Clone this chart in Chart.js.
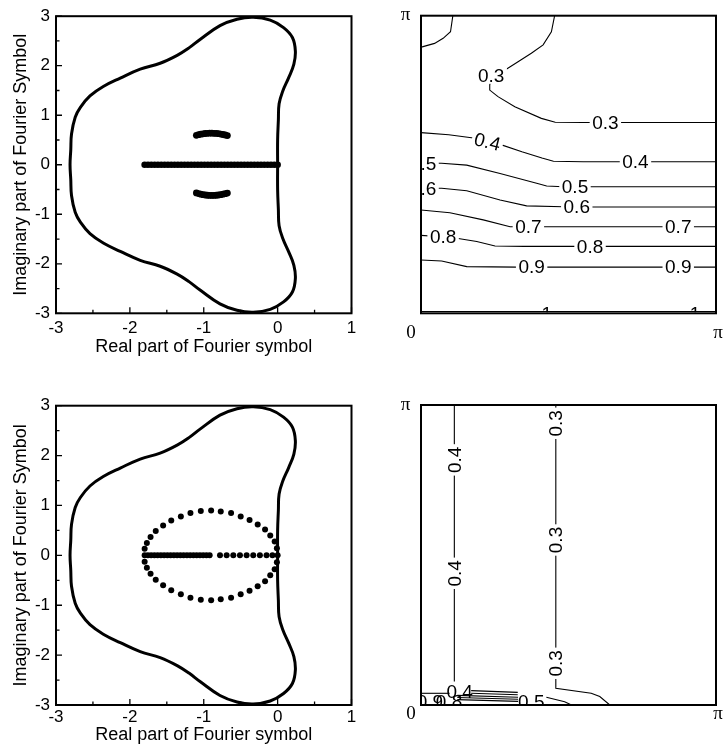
<!DOCTYPE html>
<html>
<head>
<meta charset="utf-8">
<script src="https://cdn.jsdelivr.net/npm/chart.js@4.4.1/dist/chart.umd.min.js"></script>
<style>
  html, body { margin: 0; padding: 0; background: #fff; }
  #wrap { position: relative; width: 724px; height: 750px; }
  canvas { position: absolute; }
</style>
</head>
<body>
<div id="wrap">
  <canvas id="tl" width="362" height="375" style="left:0;top:0"></canvas>
  <canvas id="tr" width="362" height="375" style="left:362px;top:0"></canvas>
  <canvas id="bl" width="362" height="375" style="left:0;top:375px"></canvas>
  <canvas id="br" width="362" height="375" style="left:362px;top:375px"></canvas>
</div>
<script>
// ---------- Stability boundary of the time integrator (closed curve) ----------
const boundaryX = [0.00, 0.00, 0.01, 0.02, 0.07, 0.15, 0.22, 0.24, 0.20, 0.08, -0.10, -0.33, -0.55, -0.78, -1.05, -1.20, -1.36, -1.59, -1.86, -2.13, -2.36, -2.54, -2.67, -2.74, -2.79, -2.80, -2.81,
                   -2.80, -2.79, -2.74, -2.67, -2.54, -2.36, -2.13, -1.86, -1.59, -1.36, -1.20, -1.05, -0.78, -0.55, -0.33, -0.10, 0.08, 0.20, 0.24, 0.22, 0.15, 0.07, 0.02, 0.01, 0.00, 0.00];
const boundaryY = [0.00, 0.50, 0.90, 1.23, 1.49, 1.76, 2.03, 2.30, 2.57, 2.77, 2.92, 2.98, 2.94, 2.81, 2.53, 2.36, 2.21, 2.05, 1.93, 1.75, 1.58, 1.39, 1.16, 0.96, 0.62, 0.30, 0.00,
                   -0.30, -0.62, -0.96, -1.16, -1.39, -1.58, -1.75, -1.93, -2.05, -2.21, -2.36, -2.53, -2.81, -2.94, -2.98, -2.92, -2.77, -2.57, -2.30, -2.03, -1.76, -1.49, -1.23, -0.90, -0.50, 0.00];

// ---------- Upper scheme: eigenvalues of the Fourier symbol ----------
const topRealRoots = [-1.80, -1.755, -1.71, -1.665, -1.62, -1.575, -1.53, -1.485, -1.44, -1.395, -1.35, -1.305, -1.26, -1.215, -1.17, -1.125, -1.08, -1.035, -0.99, -0.945, -0.90,
                      -0.855, -0.81, -0.765, -0.72, -0.675, -0.63, -0.585, -0.54, -0.495, -0.45, -0.405, -0.36, -0.315, -0.27, -0.225, -0.18, -0.135, -0.09, -0.045, 0.00];
const topArcX      = [-1.10, -1.07, -1.04, -1.01, -0.98, -0.95, -0.92, -0.89, -0.86, -0.83, -0.80, -0.77, -0.74, -0.71, -0.68];
const topArcUpperY = [0.595, 0.607, 0.617, 0.625, 0.631, 0.635, 0.637, 0.637, 0.635, 0.632, 0.627, 0.620, 0.611, 0.601, 0.590];
const topArcLowerY = [-0.570, -0.583, -0.595, -0.604, -0.611, -0.616, -0.619, -0.620, -0.619, -0.616, -0.611, -0.604, -0.595, -0.584, -0.572];

// ---------- Lower scheme: eigenvalues of the Fourier symbol ----------
const botRealRoots = [-1.80, -1.756, -1.712, -1.668, -1.624, -1.58, -1.536, -1.492, -1.448, -1.404, -1.36, -1.316, -1.272, -1.228, -1.184, -1.14, -1.096, -1.052, -1.008, -0.964, -0.92,
                      -0.78, -0.69, -0.60, -0.51, -0.42, -0.33, -0.24, -0.15, -0.07, 0.00];
const ringX      = [-1.80, -1.77, -1.72, -1.65, -1.55, -1.44, -1.31, -1.18, -1.04, -0.90, -0.77, -0.63, -0.50, -0.38, -0.27, -0.17, -0.10, -0.04, -0.01];
const ringUpperY = [0.13, 0.25, 0.37, 0.49, 0.60, 0.70, 0.78, 0.85, 0.89, 0.90, 0.88, 0.85, 0.78, 0.71, 0.62, 0.52, 0.40, 0.28, 0.14];
const ringLowerY = [-0.13, -0.25, -0.37, -0.49, -0.60, -0.70, -0.78, -0.85, -0.89, -0.90, -0.88, -0.85, -0.78, -0.71, -0.62, -0.52, -0.40, -0.28, -0.14];

// ---------- Upper scheme: contours over (theta_x, theta_y) in units of pi ----------
const trC03aU = [0.108, 0.100, 0.075, 0.046, 0.007, 0.000];
const trC03aV = [1.000, 0.946, 0.924, 0.907, 0.896, 0.894];
const trC03bU = [0.453, 0.442, 0.414, 0.374, 0.329, 0.289, 0.238, 0.233, 0.233, 0.261, 0.318, 0.408, 0.455, 0.550, 1.000];
const trC03bV = [1.000, 0.946, 0.902, 0.874, 0.845, 0.820, 0.795, 0.767, 0.750, 0.728, 0.694, 0.655, 0.642, 0.641, 0.641];
const trC04U  = [0.000, 0.094, 0.184, 0.225, 0.273, 0.342, 0.410, 0.449, 0.550, 1.000];
const trC04V  = [0.607, 0.600, 0.588, 0.576, 0.566, 0.543, 0.522, 0.511, 0.509, 0.509];
const trC05U  = [0.000, 0.070, 0.155, 0.268, 0.392, 0.426, 0.482, 0.550, 1.000];
const trC05V  = [0.505, 0.504, 0.498, 0.470, 0.437, 0.428, 0.425, 0.425, 0.425];
const trC06U  = [0.000, 0.070, 0.155, 0.268, 0.358, 0.482, 0.550, 1.000];
const trC06V  = [0.420, 0.420, 0.412, 0.381, 0.361, 0.358, 0.357, 0.357];
const trC07U  = [0.000, 0.098, 0.211, 0.302, 0.400, 1.000];
const trC07V  = [0.347, 0.338, 0.314, 0.291, 0.291, 0.291];
const trC08U  = [0.000, 0.070, 0.121, 0.189, 0.251, 0.350, 1.000];
const trC08V  = [0.262, 0.257, 0.252, 0.241, 0.226, 0.225, 0.225];
const trC09U  = [0.000, 0.070, 0.155, 0.324, 1.000];
const trC09V  = [0.179, 0.176, 0.157, 0.155, 0.155];
const trC10U  = [0.000, 1.000];
const trC10V  = [0.006, 0.006];
const trLabelText  = ['0.3', '0.3', '0.4', '0.4', '0.5', '0.5', '0.6', '0.6', '0.7', '0.7', '0.8', '0.8', '0.9', '0.9'];
const trLabelU     = [0.238, 0.625, 0.225, 0.727, 0.007, 0.522, 0.007, 0.528, 0.364, 0.872, 0.075, 0.573, 0.375, 0.872];
const trLabelV     = [0.798, 0.641, 0.576, 0.509, 0.504, 0.425, 0.420, 0.357, 0.291, 0.291, 0.256, 0.225, 0.155, 0.155];
const trLabelAngle = [0, 0, 14, 0, 0, 0, 0, 0, 0, 0, 0, 0, 0, 0];
const trEdgeLabelText = ['1', '1'];
const trEdgeLabelU    = [0.426, 0.929];
const trEdgeLabelV    = [0.000, 0.000];

// ---------- Lower scheme: contours over (theta_x, theta_y) in units of pi ----------
const brC04U = [0.113, 0.113];
const brC04V = [1.000, 0.078];
const brC03U = [0.457, 0.457, 0.577, 0.606, 0.640];
const brC03V = [1.000, 0.056, 0.039, 0.028, 0.000];
const brLowAU = [0.000, 0.097], brLowAV = [0.039, 0.039];
const brLowBU = [0.170, 0.328], brLowBV = [0.048, 0.042];
const brLowCU = [0.170, 0.328], brLowCV = [0.039, 0.034];
const brLowDU = [0.123, 0.329], brLowDV = [0.032, 0.026];
const brLowEU = [0.123, 0.329], brLowEV = [0.025, 0.019];
const brLowFU = [0.123, 0.329], brLowFV = [0.018, 0.012];
const brLowGU = [0.425, 0.487, 0.510], brLowGV = [0.026, 0.011, 0.000];
const brLabelText  = ['0.4', '0.4', '0.3', '0.3', '0.3'];
const brLabelU     = [0.113, 0.113, 0.457, 0.457, 0.457];
const brLabelV     = [0.817, 0.439, 0.939, 0.550, 0.139];
const brLabelAngle = [-90, -90, -90, -90, -90];
const brEdgeLabelText = ['0.4', '0.8', '0.9', '0.5'];
const brEdgeLabelU    = [0.131, 0.095, 0.030, 0.374];
const brEdgeLabelV    = [0.044, 0.012, 0.012, 0.012];

const SANS = '"Liberation Sans", Arial, Helvetica, sans-serif';
const SERIF = '"Liberation Serif", "Times New Roman", serif';

function pts(xs, ys) { return xs.map((x, i) => ({ x, y: ys[i] })); }
function onAxis(xs) { return xs.map(x => ({ x, y: 0 })); }

// Frame, inward tick marks, contour labels and corner labels.
function makeDecor(cfg) {
  return {
    id: 'decor',
    afterDatasetsDraw(chart) {
      const ctx = chart.ctx, a = chart.chartArea;
      const xs = chart.scales.x, ys = chart.scales.y;
      const drawLabels = (text, us, vs, angles, boxed) => {
        ctx.save();
        ctx.beginPath();
        ctx.rect(a.left + 1, a.top + 1, a.right - a.left - 2, a.bottom - a.top - 2);
        ctx.clip();
        ctx.font = '19px ' + SANS;
        ctx.textAlign = 'center';
        ctx.textBaseline = 'middle';
        text.forEach((t, i) => {
          const px = xs.getPixelForValue(us[i]);
          const py = ys.getPixelForValue(vs[i]);
          ctx.save();
          ctx.translate(px, py);
          ctx.rotate((angles ? angles[i] : 0) * Math.PI / 180);
          const w = ctx.measureText(t).width;
          if (boxed) {
            ctx.fillStyle = '#fff';
            ctx.fillRect(-w / 2 - 2.5, -8, w + 5, 16);
          }
          ctx.fillStyle = '#000';
          ctx.fillText(t, 0, 1);
          ctx.restore();
        });
        ctx.restore();
      };
      (cfg.labelSets || []).forEach(s => drawLabels(s.text, s.u, s.v, s.angle, s.boxed));

      ctx.save();
      ctx.strokeStyle = '#000';
      ctx.lineWidth = 2;
      ctx.strokeRect(a.left, a.top, a.right - a.left, a.bottom - a.top);
      ctx.restore();

      if (cfg.inwardTicks) {
        ctx.save();
        ctx.strokeStyle = '#000';
        ctx.lineWidth = 1.3;
        ctx.beginPath();
        for (let v = xs.min; v <= xs.max + 1e-9; v += 0.5) {
          const px = xs.getPixelForValue(v);
          const len = Math.abs(v - Math.round(v)) < 1e-9 ? 6 : 3.5;
          ctx.moveTo(px, a.bottom);
          ctx.lineTo(px, a.bottom - len);
        }
        for (let v = ys.min; v <= ys.max + 1e-9; v += 0.5) {
          const py = ys.getPixelForValue(v);
          const len = Math.abs(v - Math.round(v)) < 1e-9 ? 6 : 3.5;
          ctx.moveTo(a.left, py);
          ctx.lineTo(a.left + len, py);
        }
        ctx.stroke();
        ctx.restore();
      }

      if (cfg.corner) {
        const c = cfg.corner;
        ctx.save();
        ctx.fillStyle = '#000';
        ctx.font = '19px ' + SERIF;
        ctx.textAlign = 'center';
        ctx.textBaseline = 'middle';
        ctx.fillText('\u03c0', a.left - 15.5, a.top + c.topDy);
        ctx.fillText('0', a.left - 10, a.bottom + c.bottomDy);
        ctx.fillText('\u03c0', a.right + 2, a.bottom + c.bottomDy);
        ctx.restore();
      }
    }
  };
}

Chart.defaults.font.family = SANS;
Chart.defaults.color = '#000';

function symbolChart(id, datasets, pad, xAxisHeight, tickPad, titlePad) {
  return new Chart(document.getElementById(id), {
    type: 'scatter',
    data: { datasets },
    options: {
      responsive: false,
      animation: false,
      devicePixelRatio: 1,
      layout: { padding: { top: pad.top, right: pad.right, bottom: 0, left: 0 } },
      plugins: { legend: { display: false }, tooltip: { enabled: false } },
      scales: {
        x: {
          type: 'linear', min: -3, max: 1,
          grid: { display: false, drawTicks: false },
          border: { display: false },
          ticks: { stepSize: 1, font: { size: 17 }, color: '#000', padding: tickPad, maxRotation: 0 },
          title: { display: true, text: 'Real part of Fourier symbol', font: { size: 18 }, color: '#000', padding: { top: 0, bottom: titlePad } },
          afterFit: s => { s.height = xAxisHeight; }
        },
        y: {
          type: 'linear', min: -3, max: 3,
          grid: { display: false, drawTicks: false },
          border: { display: false },
          ticks: { stepSize: 1, font: { size: 17 }, color: '#000', padding: 6 },
          title: { display: true, text: 'Imaginary part of Fourier Symbol', font: { size: 18 }, color: '#000', padding: { top: 9.9, bottom: 0 } },
          afterFit: s => { s.width = 56; }
        }
      }
    },
    plugins: [makeDecor({ inwardTicks: true })]
  });
}

const curveStyle = { showLine: true, borderColor: '#000', borderWidth: 3, pointRadius: 0, tension: 0.4, fill: false };
const dotStyle = (r) => ({ showLine: false, pointRadius: r, pointBorderWidth: 0, backgroundColor: '#000', borderColor: '#000' });

symbolChart('tl', [
  Object.assign({ data: pts(boundaryX, boundaryY) }, curveStyle),
  Object.assign({ data: onAxis(topRealRoots) }, dotStyle(3.3)),
  Object.assign({ data: pts(topArcX, topArcUpperY) }, dotStyle(3.4)),
  Object.assign({ data: pts(topArcX, topArcLowerY) }, dotStyle(3.4))
], { top: 15.5, right: 10.5 }, 61.7, 5, 17.5);

symbolChart('bl', [
  Object.assign({ data: pts(boundaryX, boundaryY) }, curveStyle),
  Object.assign({ data: onAxis(botRealRoots) }, dotStyle(3.0)),
  Object.assign({ data: pts(ringX, ringUpperY) }, dotStyle(3.0)),
  Object.assign({ data: pts(ringX, ringLowerY) }, dotStyle(3.0))
], { top: 30.7, right: 10.5 }, 45, 2.1, 4.2);

const contourStyle = { showLine: true, borderColor: '#000', borderWidth: 1.1, pointRadius: 0, tension: 0, fill: false };

function contourChart(id, lines, pad, decor) {
  return new Chart(document.getElementById(id), {
    type: 'scatter',
    data: { datasets: lines.map(l => Object.assign({ data: pts(l[0], l[1]) }, contourStyle)) },
    options: {
      responsive: false,
      animation: false,
      devicePixelRatio: 1,
      layout: { padding: pad },
      plugins: { legend: { display: false }, tooltip: { enabled: false } },
      scales: {
        x: { type: 'linear', min: 0, max: 1, display: false },
        y: { type: 'linear', min: 0, max: 1, display: false }
      }
    },
    plugins: [makeDecor(decor)]
  });
}

contourChart('tr', [
  [trC03aU, trC03aV], [trC03bU, trC03bV], [trC04U, trC04V], [trC05U, trC05V], [trC06U, trC06V],
  [trC07U, trC07V], [trC08U, trC08V], [trC09U, trC09V], [trC10U, trC10V]
], { top: 15.7, right: 8, bottom: 61.7, left: 59 }, {
  labelSets: [
    { text: trLabelText, u: trLabelU, v: trLabelV, angle: trLabelAngle, boxed: true },
    { text: trEdgeLabelText, u: trEdgeLabelU, v: trEdgeLabelV, angle: null, boxed: false }
  ],
  corner: { topDy: -1, bottomDy: 20 }
});

contourChart('br', [
  [brC04U, brC04V], [brC03U, brC03V], [brLowAU, brLowAV], [brLowBU, brLowBV], [brLowCU, brLowCV],
  [brLowDU, brLowDV], [brLowEU, brLowEV], [brLowFU, brLowFV], [brLowGU, brLowGV]
], { top: 30, right: 8, bottom: 45, left: 59 }, {
  labelSets: [
    { text: brLabelText, u: brLabelU, v: brLabelV, angle: brLabelAngle, boxed: true },
    { text: brEdgeLabelText, u: brEdgeLabelU, v: brEdgeLabelV, angle: null, boxed: false }
  ],
  corner: { topDy: 0, bottomDy: 9 }
});
</script>
</body>
</html>
